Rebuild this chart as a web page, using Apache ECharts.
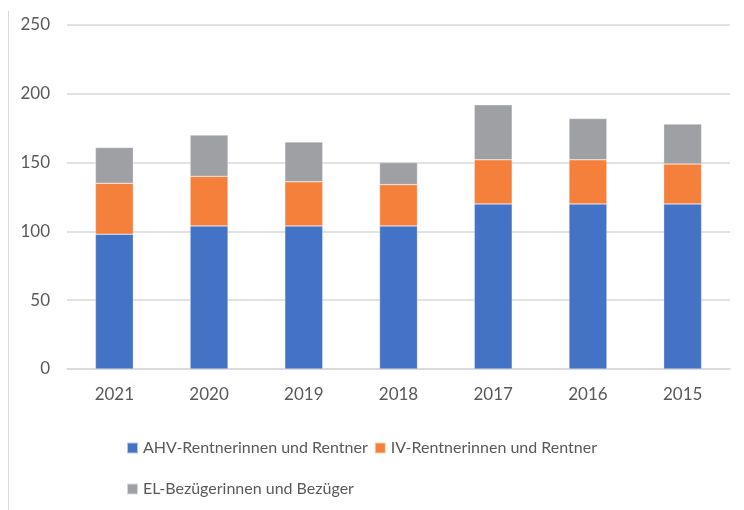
<!DOCTYPE html>
<html>
<head>
<meta charset="utf-8">
<script src="https://cdn.jsdelivr.net/npm/echarts@6/dist/echarts.min.js"></script>
<style>
  html, body { margin: 0; padding: 0; background: #fff; }
  #chart { width: 744px; height: 510px; }
</style>
</head>
<body>
<div id="chart"></div>
<script>
// Jahre (Kategorien)
const years = ['2021', '2020', '2019', '2018', '2017', '2016', '2015']
// Werte je Gruppe (gestapelt)
const ahv = [98, 104, 104, 104, 120, 120, 120]
const iv = [37, 36, 32, 30, 32, 32, 29]
const el = [26, 30, 29, 16, 40, 30, 29]
const seriesNames = ['AHV-Rentnerinnen und Rentner', 'IV-Rentnerinnen und Rentner', 'EL-Bezügerinnen und Bezüger']
const colors = ['#4472C4', '#F4803C', '#9EA0A4']

const textColor = '#595959'
const fontFamily = 'Lato, "Open Sans", sans-serif'

const chart = echarts.init(document.getElementById('chart'))

function barSeries(name, data, color) {
  return {
    name: name,
    type: 'bar',
    stack: 'total',
    barWidth: '40%',
    data: data,
    itemStyle: { color: color, borderColor: 'rgba(255,255,255,0.6)', borderWidth: 0.5 },
    emphasis: { disabled: true }
  }
}

const legendText = { color: textColor, fontSize: 16, fontFamily: fontFamily }

chart.setOption({
  animation: false,
  color: colors,
  grid: { left: 67, right: 14, top: 25, bottom: 141 },
  legend: [
    {
      data: [seriesNames[0], seriesNames[1]],
      left: 121, top: 435,
      icon: 'rect', itemWidth: 11, itemHeight: 11, itemGap: 6,
      textStyle: legendText
    },
    {
      data: [seriesNames[2]],
      left: 121, top: 476,
      icon: 'rect', itemWidth: 11, itemHeight: 11, itemGap: 6,
      textStyle: legendText
    }
  ],
  xAxis: {
    type: 'category',
    data: years,
    axisLine: { show: true, lineStyle: { color: '#d9d9d9', width: 1.5 } },
    axisTick: { show: false },
    axisLabel: { color: textColor, fontSize: 17, fontFamily: fontFamily, margin: 17 }
  },
  yAxis: {
    type: 'value',
    min: 0, max: 250, interval: 50,
    axisLine: { show: false },
    axisTick: { show: false },
    splitLine: { lineStyle: { color: '#d9d9d9', width: 1.5 } },
    axisLabel: { color: textColor, fontSize: 17, fontFamily: fontFamily, margin: 17 }
  },
  graphic: [
    {
      type: 'line',
      shape: { x1: 8.5, y1: 11, x2: 8.5, y2: 510 },
      style: { stroke: '#d9d9d9', lineWidth: 1 }
    }
  ],
  series: [
    barSeries(seriesNames[0], ahv, colors[0]),
    barSeries(seriesNames[1], iv, colors[1]),
    barSeries(seriesNames[2], el, colors[2])
  ]
})
</script>
</body>
</html>
